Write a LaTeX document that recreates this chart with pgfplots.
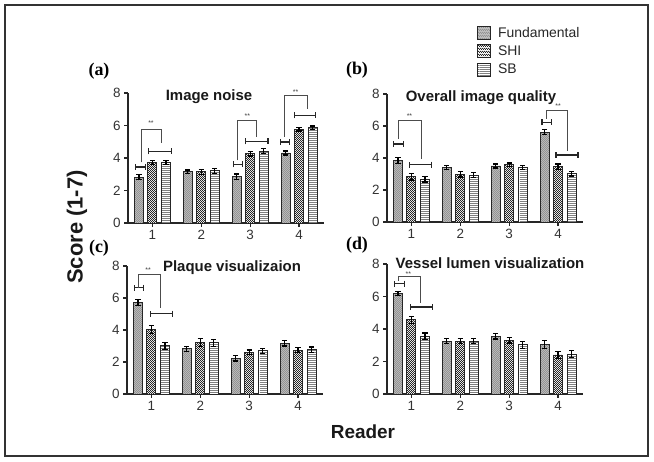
\documentclass[border=0pt]{standalone}
\usepackage{fontspec}
\setmainfont{Liberation Sans}
\newfontfamily\serifbf{Liberation Serif}
\usepackage{pgfplots}
\pgfplotsset{compat=1.18}
\usepackage{pgfplotstable}
\usetikzlibrary{patterns, arrows.meta}

% small patterns for the bar fills
\pgfdeclarepatternformonly{finecheck}{\pgfpointorigin}{\pgfpoint{2.4bp}{2.4bp}}{\pgfpoint{2.4bp}{2.4bp}}{%
  \pgfpathrectangle{\pgfpointorigin}{\pgfpoint{1.2bp}{1.2bp}}%
  \pgfpathrectangle{\pgfpoint{1.2bp}{1.2bp}}{\pgfpoint{1.2bp}{1.2bp}}%
  \pgfusepath{fill}}
\pgfdeclarepatternformonly{hlines}{\pgfpointorigin}{\pgfpoint{20bp}{2.4bp}}{\pgfpoint{20bp}{2.4bp}}{%
  \pgfpathrectangle{\pgfpointorigin}{\pgfpoint{20bp}{1bp}}%
  \pgfusepath{fill}}

% reader  fundamental(err)  SHI(err)  SB(err)
\pgfplotstableread{
x F Fe S Se B Be
1 2.81 0.15 3.72 0.13 3.74 0.13
2 3.16 0.10 3.15 0.15 3.22 0.15
3 2.85 0.17 4.25 0.13 4.42 0.16
4 4.31 0.12 5.76 0.10 5.87 0.10
}\noisedata
\pgfplotstableread{
x F Fe S Se B Be
1 3.85 0.20 2.82 0.20 2.67 0.17
2 3.40 0.12 2.98 0.17 2.93 0.15
3 3.50 0.12 3.57 0.12 3.40 0.13
4 5.62 0.17 3.45 0.17 3.03 0.15
}\qualitydata
\pgfplotstableread{
x F Fe S Se B Be
1 5.71 0.20 4.05 0.25 3.02 0.22
2 2.83 0.15 3.22 0.25 3.21 0.22
3 2.23 0.17 2.60 0.15 2.70 0.15
4 3.18 0.18 2.74 0.15 2.77 0.17
}\plaquedata
\pgfplotstableread{
x F Fe S Se B Be
1 6.18 0.12 4.57 0.22 3.55 0.20
2 3.25 0.15 3.25 0.15 3.26 0.15
3 3.56 0.17 3.31 0.17 3.02 0.20
4 3.06 0.25 2.40 0.22 2.45 0.22
}\lumendata

\pgfplotsset{
  panel/.style={
    scale only axis, width=195.5bp, anchor=south west,
    xmin=0.5, xmax=4.5, ymin=0, ymax=8, enlargelimits=false,
    axis x line*=bottom, axis y line*=left,
    xtick={1,2,3,4}, ytick={0,2,4,6,8},
    tick align=outside, major tick length=4bp,
    axis line style={line width=1.5bp, black!85},
    major tick style={line width=1.2bp, black!85},
    tick label style={font=\fontsize{13.5}{14}\selectfont, text=black!80},
    /pgf/number format/assume math mode=true,
    ybar, bar width=9bp, clip=false,
  },
  barimg/.style={legend image code/.code={\draw[##1] (0bp,-6.5bp) rectangle (13bp,6.5bp);}},
  errs/.style={error bars/.cd, y dir=both, y explicit,
    error bar style={line width=1.2bp, black},
    error mark options={rotate=90, mark size=2.6bp, line width=1.2bp, black}},
  fund/.style={draw=black!85, line width=0.9bp, fill=gray!50,
    postaction={pattern=finecheck, pattern color=gray!85}, bar shift=-13.5bp, barimg},
  shi/.style={draw=black!85, line width=0.9bp, fill=white,
    postaction={pattern=finecheck, pattern color=black!85}, bar shift=0bp, barimg},
  sb/.style={draw=black!85, line width=0.9bp, fill=white,
    postaction={pattern=hlines, pattern color=black!50}, bar shift=13.5bp, barimg},
}
\tikzset{
  sigcap/.style={line width=1.3bp, black!85,
    {Bar[width=6bp,line width=1.2bp]}-{Bar[width=6bp,line width=1.2bp]}},
  brk/.style={line width=0.7bp, black!70},
  stars/.style={font=\fontsize{7}{7}\selectfont, text=black!75, inner sep=0pt},
}

\begin{document}
\begin{tikzpicture}[x=1bp, y=1bp]
\useasboundingbox (0,0) rectangle (654,462);
\draw[line width=1.3bp, black!80] (5,6) rectangle (648,457);

% (a) image noise
\begin{axis}[panel, at={(128bp,239bp)}, height=130bp]
\addplot[fund, errs] table[x=x, y=F, y error=Fe] {\noisedata};
\addplot[shi, errs] table[x=x, y=S, y error=Se] {\noisedata};
\addplot[sb, errs] table[x=x, y=B, y error=Be] {\noisedata};
\draw[sigcap] (axis cs:0.643,3.45) -- (axis cs:0.867,3.45);
\draw[sigcap] (axis cs:0.908,4.41) -- (axis cs:1.398,4.41);
\draw[brk] (axis cs:0.765,3.73) |- (axis cs:1.173,5.77) -- (axis cs:1.173,4.9);
\node[stars] at (axis cs:0.97,6.12) {**};
\draw[sigcap] (axis cs:2.643,3.6) -- (axis cs:2.847,3.6);
\draw[sigcap] (axis cs:2.888,5.03) -- (axis cs:3.378,5.03);
\draw[brk] (axis cs:2.745,3.85) |- (axis cs:3.133,6.32) -- (axis cs:3.133,5.3);
\node[stars] at (axis cs:2.94,6.6) {**};
\draw[sigcap] (axis cs:3.602,4.99) -- (axis cs:3.82,4.99);
\draw[sigcap] (axis cs:3.888,6.63) -- (axis cs:4.35,6.63);
\draw[brk] (axis cs:3.704,5.3) |- (axis cs:4.16,7.83) -- (axis cs:4.16,7.04);
\node[stars] at (axis cs:3.93,8.05) {**};
\end{axis}

% (b) overall image quality, carries the legend
\begin{axis}[panel, at={(387bp,240bp)}, height=128bp,
  legend cell align=left,
  legend style={draw=none, fill=none, at={(0.46,1.54)}, anchor=north west,
    inner sep=0pt, row sep=3bp, font=\fontsize{14}{16}\selectfont,
    nodes={text=black!85},
    /tikz/every odd column/.append style={column sep=5bp}}]
\addplot[fund, errs] table[x=x, y=F, y error=Fe] {\qualitydata};
\addlegendentry{Fundamental}
\addplot[shi, errs] table[x=x, y=S, y error=Se] {\qualitydata};
\addlegendentry{SHI}
\addplot[sb, errs] table[x=x, y=B, y error=Be] {\qualitydata};
\addlegendentry{SB}
\draw[sigcap] (axis cs:0.623,4.875) -- (axis cs:0.849,4.875);
\draw[sigcap] (axis cs:0.951,3.58) -- (axis cs:1.423,3.58);
\draw[brk] (axis cs:0.726,5.19) |- (axis cs:1.197,6.33) -- (axis cs:1.197,3.94);
\node[stars] at (axis cs:0.96,6.62) {**};
\draw[sigcap] (axis cs:3.659,6.23) -- (axis cs:3.885,6.23);
\draw[sigcap] (axis cs:3.946,4.19) -- (axis cs:4.418,4.19);
\draw[brk] (axis cs:3.762,6.44) |- (axis cs:4.192,6.96) -- (axis cs:4.192,4.46);
\node[stars] at (axis cs:4.0,7.25) {**};
\end{axis}

% (c) plaque visualization
\begin{axis}[panel, at={(127bp,68bp)}, height=128bp]
\addplot[fund, errs] table[x=x, y=F, y error=Fe] {\plaquedata};
\addplot[shi, errs] table[x=x, y=S, y error=Se] {\plaquedata};
\addplot[sb, errs] table[x=x, y=B, y error=Be] {\plaquedata};
\draw[sigcap] (axis cs:0.643,6.65) -- (axis cs:0.847,6.65);
\draw[sigcap] (axis cs:0.969,5.02) -- (axis cs:1.439,5.02);
\draw[brk] (axis cs:0.724,6.65) |- (axis cs:1.173,7.46) -- (axis cs:1.173,5.375);
\node[stars] at (axis cs:0.93,7.72) {**};
\end{axis}

% (d) vessel lumen visualization
\begin{axis}[panel, at={(387bp,68bp)}, height=130bp]
\addplot[fund, errs] table[x=x, y=F, y error=Fe] {\lumendata};
\addplot[shi, errs] table[x=x, y=S, y error=Se] {\lumendata};
\addplot[sb, errs] table[x=x, y=B, y error=Be] {\lumendata};
\draw[sigcap] (axis cs:0.644,6.79) -- (axis cs:0.869,6.79);
\draw[sigcap] (axis cs:0.972,5.35) -- (axis cs:1.437,5.35);
\draw[brk] (axis cs:0.733,6.96) |- (axis cs:1.191,7.27) -- (axis cs:1.191,5.6);
\node[stars] at (axis cs:0.937,7.4) {**};
\end{axis}

% panel titles
\begin{scope}[every node/.style={font=\bfseries\fontsize{15}{16}\selectfont, text=black!90, anchor=base, inner sep=0pt}]
\node at (209,361.5) {Image noise};
\node at (481,360.5) {Overall image quality};
\node at (232,190.5) {Plaque visualizaion};
\node at (490,193) {Vessel lumen visualization};
\end{scope}

% panel letters
\begin{scope}[every node/.style={font=\serifbf\bfseries\fontsize{18}{18}\selectfont}]
\node at (99,391) {(a)};
\node at (357,392) {(b)};
\node at (99,214) {(c)};
\node at (357,217) {(d)};
\end{scope}

% shared axis labels
\node[rotate=90, font=\bfseries\fontsize{22}{22}\selectfont, text=black!90] at (77,235) {Score (1-7)};
\node[font=\bfseries\fontsize{19}{19}\selectfont, text=black!90] at (363,30) {Reader};
\end{tikzpicture}
\end{document}
